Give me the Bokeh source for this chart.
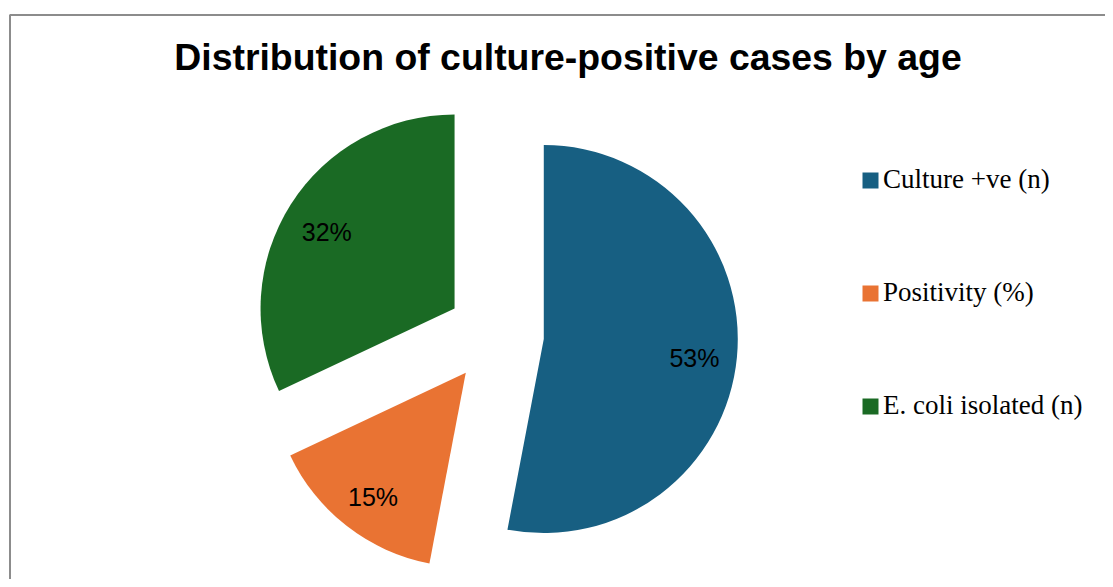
import math
from bokeh.plotting import figure
from bokeh.models import ColumnDataSource, Label
from bokeh.core.properties import value
from bokeh.embed import file_html
from bokeh.resources import INLINE

# ---- data ----
title_text = "Distribution of culture-positive cases by age"
categories = ["Culture +ve (n)", "Positivity (%)", "E. coli isolated (n)"]
percents = [53, 15, 32]
colors = ["#175F82", "#E97333", "#1A6A24"]

# ---- layout (pixel-like data units) ----
W, H = 1105, 579
p = figure(width=W, height=H, x_range=(0, W), y_range=(0, H),
           output_backend="svg", toolbar_location=None, min_border=0)
p.axis.visible = False
p.grid.visible = False
p.outline_line_color = None
p.background_fill_color = "white"

# chart-area border (top and left edges visible in the crop)
p.line(x=[9.5, 9.5, 1200], y=[-10, 564.5, 564.5], line_color="#8C8C8C", line_width=2)

cx, cy, R, explode, lab_r = 495, 245, 194, 48.5, 0.78
total = float(sum(percents))
xs, ys, st, en, lx, ly, labels = [], [], [], [], [], [], []
cum = 0.0
for v in percents:
    a0 = math.pi / 2 - 2 * math.pi * cum / total
    cum += v
    a1 = math.pi / 2 - 2 * math.pi * cum / total
    mid = (a0 + a1) / 2
    x = cx + explode * math.cos(mid)
    y = cy + explode * math.sin(mid)
    xs.append(x); ys.append(y); st.append(a0); en.append(a1)
    lx.append(x + lab_r * R * math.cos(mid))
    ly.append(y + lab_r * R * math.sin(mid))
    labels.append(f"{round(100 * v / total)}%")

src = ColumnDataSource(dict(x=xs, y=ys, start=st, end=en, color=colors,
                            category=categories, lx=lx, ly=ly, label=labels))

p.wedge(x="x", y="y", radius=R, start_angle="start", end_angle="end",
        direction="clock", fill_color="color", line_color=None,
        source=src, legend_field="category")

p.text(x="lx", y="ly", text="label", source=src, text_align="center",
       text_baseline="middle", text_font=value("Liberation Sans"),
       text_font_size="25px", text_color="#000000", y_offset=5)

p.add_layout(Label(x=567.5, y=522.5, text=title_text, text_align="center",
                   text_baseline="alphabetic", text_font="Liberation Sans",
                   text_font_style="bold", text_font_size="37.4px",
                   text_color="#000000"))

lg = p.legend[0]
lg.location = (860, 158)
lg.border_line_color = None
lg.background_fill_alpha = 0
lg.padding = 0
lg.margin = 0
lg.glyph_width = 20
lg.glyph_height = 20
lg.label_height = 30
lg.spacing = 82
lg.label_standoff = 3
lg.label_text_font = "Liberation Serif"
lg.label_text_font_size = "27px"
lg.label_text_color = "#000000"

open("out.html", "w").write(file_html(p, INLINE))
